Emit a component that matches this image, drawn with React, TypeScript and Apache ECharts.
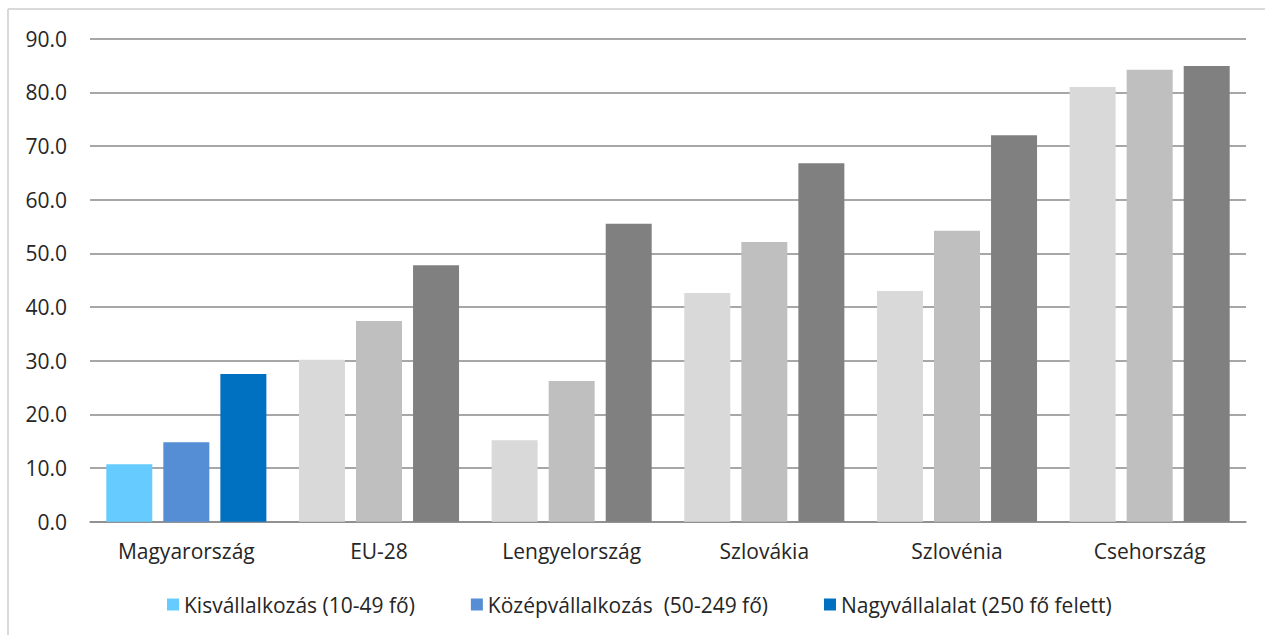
import React, { useEffect, useRef } from "react";
import * as echarts from "echarts";

const categories = ["Magyarország", "EU-28", "Lengyelország", "Szlovákia", "Szlovénia", "Csehország"];
const seriesNames = ["Kisvállalkozás (10-49 fő)", "Középvállalkozás  (50-249 fő)", "Nagyvállalalat (250 fő felett)"];
const smallValues = [10.7, 30.2, 15.2, 42.6, 43.0, 81.0];
const mediumValues = [14.8, 37.4, 26.2, 52.1, 54.2, 84.2];
const largeValues = [27.5, 47.8, 55.5, 66.8, 72.0, 84.9];
const yTicks = { min: 0, max: 90, interval: 10 };

const highlightColors = ["#66CCFF", "#558ED5", "#0070C0"];
const greyColors = ["#D9D9D9", "#BFBFBF", "#808080"];
const highlightCategory = "Magyarország";

const FONT = "'Open Sans', sans-serif";

export default function App() {
  const ref = useRef<HTMLDivElement>(null);
  useEffect(() => {
    if (!ref.current) return;
    const chart = echarts.init(ref.current, null, { renderer: "svg" });
    const all = [smallValues, mediumValues, largeValues];
    const series = all.map((vals, si) => ({
      name: seriesNames[si],
      type: "bar",
      barWidth: 46,
      barGap: "24%",
      itemStyle: { color: highlightColors[si] },
      data: vals.map((v, ci) => ({
        value: v,
        itemStyle: { color: categories[ci] === highlightCategory ? highlightColors[si] : greyColors[si] },
      })),
    }));
    chart.setOption({
      animation: false,
      backgroundColor: "#ffffff",
      textStyle: { fontFamily: FONT },
      graphic: [
        { type: "line", shape: { x1: 8, y1: 9, x2: 1265, y2: 9 }, style: { stroke: "#D9D9D9", lineWidth: 2 } },
        { type: "line", shape: { x1: 8, y1: 9, x2: 8, y2: 635 }, style: { stroke: "#D9D9D9", lineWidth: 2 } },
      ],
      grid: { left: 90, right: 19, top: 38.7, bottom: 113.3, containLabel: false },
      legend: {
        left: 167,
        top: 594,
        padding: 0,
        itemWidth: 12,
        itemHeight: 12,
        itemGap: 56,
        icon: "rect",
        textStyle: { fontFamily: FONT, fontSize: 21, color: "#262626" },
        data: seriesNames,
      },
      xAxis: {
        type: "category",
        data: categories,
        axisLine: { lineStyle: { color: "#8A8A8A", width: 1.5 } },
        axisTick: { show: false },
        axisLabel: { fontFamily: FONT, fontSize: 21, color: "#262626", margin: 19 },
      },
      yAxis: {
        type: "value",
        min: yTicks.min,
        max: yTicks.max,
        interval: yTicks.interval,
        axisLine: { show: false },
        axisTick: { show: false },
        splitLine: { lineStyle: { color: "#8A8A8A", width: 1.5 } },
        axisLabel: {
          fontFamily: FONT,
          fontSize: 21,
          color: "#262626",
          margin: 23,
          formatter: (v: number) => v.toFixed(1),
        },
      },
      series,
    });
    return () => chart.dispose();
  }, []);
  return <div ref={ref} style={{ position: "fixed", left: 0, top: 0, width: 1265, height: 635 }} />;
}
